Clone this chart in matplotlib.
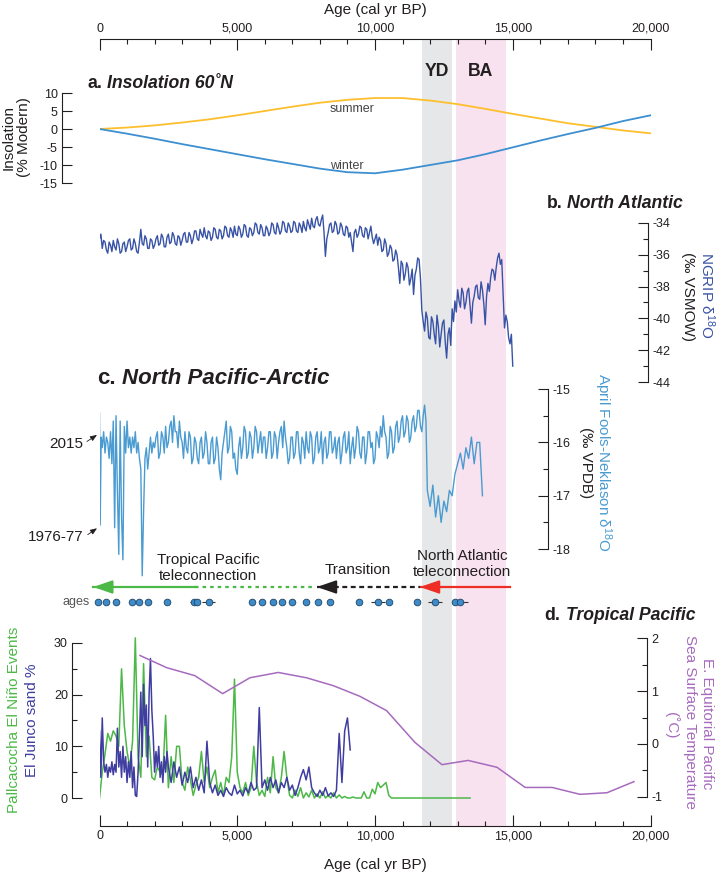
import numpy as np
import matplotlib
matplotlib.use('Agg')
import matplotlib.pyplot as plt
from matplotlib.ticker import FixedLocator, MultipleLocator, FuncFormatter

plt.rcParams['font.family'] = ['Liberation Sans', 'DejaVu Sans']
plt.rcParams['axes.unicode_minus'] = False
plt.rcParams['mathtext.fontset'] = 'custom'
plt.rcParams['mathtext.rm'] = 'Liberation Sans'
plt.rcParams['mathtext.default'] = 'regular'
LABEL_SIZE = 11

# ---------------- data ----------------
yd_span = (11700, 12800)
ba_span = (12950, 14750)

# a. insolation 60N (% modern)
ins_age = np.arange(0, 20001, 1000)
ins_summer = [0, 0.4, 1.0, 1.8, 2.7, 3.8, 5.0, 6.2, 7.3, 8.1, 8.6,
              8.6, 7.9, 6.9, 5.6, 4.2, 2.9, 1.6, 0.6, -0.4, -1.2]
ins_winter = [0, -1.3, -2.7, -4.2, -5.6, -7.0, -8.4, -9.7, -11.0, -12.0, -12.3,
              -11.3, -10.0, -8.7, -7.0, -5.1, -3.2, -1.4, 0.3, 2.2, 3.8]

# b. NGRIP d18O (50 yr steps)
ngrip_age = np.arange(0, 15001, 50)
ngrip_d18o = [
    -35.0, -34.7, -35.6, -35.1, -35.2, -35.7, -35.9, -35.2, -35.4, -35.8,
    -35.1, -35.5, -35.7, -35.0, -35.3, -35.9, -35.8, -35.3, -35.2, -35.8,
    -35.5, -35.1, -35.0, -35.7, -35.6, -35.0, -35.3, -35.8, -35.9, -35.2,
    -34.4, -35.3, -35.4, -34.8, -35.0, -35.6, -35.6, -35.0, -35.1, -35.6,
    -35.4, -35.0, -34.8, -35.4, -35.3, -34.7, -34.9, -35.5, -35.5, -34.9,
    -34.7, -35.3, -35.2, -34.6, -34.8, -35.3, -35.4, -34.8, -34.9, -35.4,
    -35.1, -34.7, -34.6, -35.2, -35.2, -34.6, -34.8, -35.3, -35.0, -34.5,
    -34.5, -35.0, -35.1, -34.4, -34.7, -34.9, -34.3, -34.8, -35.0, -34.5,
    -34.6, -35.1, -34.9, -34.3, -34.4, -34.9, -35.0, -34.4, -34.5, -35.0,
    -34.8, -34.2, -34.3, -34.8, -34.9, -34.3, -34.5, -34.9, -34.2, -34.7,
    -34.8, -34.2, -34.4, -34.9, -34.7, -34.1, -34.2, -34.8, -34.9, -34.3,
    -34.4, -34.8, -34.6, -34.0, -34.1, -34.6, -34.7, -34.1, -34.3, -34.8,
    -34.8, -34.2, -34.4, -34.8, -34.6, -34.0, -34.1, -34.6, -34.7, -34.0,
    -34.3, -34.7, -34.5, -33.9, -34.0, -34.5, -34.6, -34.0, -34.2, -34.6,
    -34.5, -33.9, -34.0, -34.5, -34.6, -34.0, -34.2, -34.6, -33.9, -34.3,
    -34.5, -33.8, -34.1, -34.4, -33.7, -34.2, -34.3, -33.8, -33.6, -34.1,
    -34.2, -33.8, -33.5, -34.6, -36.1, -35.0, -34.6, -34.1, -34.0, -34.6,
    -34.5, -33.9, -34.1, -34.7, -34.6, -34.0, -34.2, -34.7, -34.8, -34.2,
    -34.3, -34.9, -34.6, -35.2, -35.8, -34.6, -34.4, -34.9, -34.7, -34.2,
    -34.3, -34.8, -34.9, -34.3, -34.4, -35.0, -34.6, -34.2, -34.9, -35.3,
    -35.0, -34.7, -35.4, -34.9, -35.1, -35.8, -35.7, -35.0, -35.3, -36.1,
    -35.9, -35.4, -35.6, -36.4, -36.3, -35.7, -36.0, -36.8, -37.8, -36.4,
    -36.6, -37.6, -37.2, -36.5, -36.8, -37.9, -37.5, -36.9, -38.5, -37.3,
    -36.9, -36.2, -36.3, -37.5, -39.5, -40.2, -40.8, -39.6, -40.0, -41.2,
    -41.3, -39.9, -40.2, -41.0, -41.6, -39.8, -40.5, -41.8, -41.0, -40.3,
    -40.1, -41.5, -42.5, -41.0, -40.6, -41.7, -39.4, -40.2, -38.9, -39.6,
    -38.2, -38.9, -39.3, -38.1, -38.4, -39.4, -39.0, -38.3, -38.1, -39.2,
    -40.3, -39.0, -38.6, -38.0, -37.9, -38.7, -38.8, -37.7, -38.2, -39.1,
    -40.4, -38.6, -37.8, -38.3, -37.4, -36.9, -37.0, -37.6, -36.8, -36.2,
    -35.9, -36.6, -36.3, -38.4, -40.6, -39.8, -40.2, -41.2, -41.6, -41.0,
    -43.0]

# c. April Fools-Neklason d18O
afn_age = ([0, 25, 60, 100, 150, 200, 250, 300, 350, 400, 450, 500, 550, 600,
            650, 700, 750, 800, 850, 900, 950, 1000, 1050, 1100, 1150, 1200,
            1250, 1300, 1350, 1400, 1450, 1500, 1550, 1600, 1650, 1700, 1750,
            1800, 1850, 1900, 1950]
           + list(range(2000, 11851, 50)) + list(range(11900, 13901, 100)))
afn_d18o = [
    -15.45, -17.55, -15.9, -16.1, -15.8, -16.2, -15.9, -16.0, -16.3, -15.8,
    -16.4, -15.6, -17.6, -15.5, -16.9, -18.1, -15.6, -17.4, -18.2, -15.7,
    -16.2, -15.6, -16.1, -15.9, -16.2, -15.9, -16.1, -15.8, -16.2, -16.0,
    -16.3, -16.5, -18.5, -17.3, -16.3, -16.1, -16.5, -16.2, -15.9, -16.2,
    -16.0,
    -16.1, -15.9, -15.8, -16.3, -16.2, -15.8, -15.9, -16.2, -15.7, -16.1,
    -16.0, -15.7, -15.6, -16.0, -15.5, -15.8, -15.8, -16.1, -15.6, -15.9,
    -16.0, -16.3, -15.8, -16.1, -16.2, -15.8, -15.9, -16.4, -16.3, -15.9,
    -16.0, -16.3, -16.4, -16.0, -15.9, -16.3, -16.2, -15.8, -16.0, -16.4,
    -16.4, -16.0, -15.9, -16.4, -16.3, -15.9, -16.1, -16.5, -16.7, -16.2,
    -16.0, -15.8, -15.6, -16.2, -16.1, -15.7, -15.8, -16.3, -16.2, -16.5,
    -16.6, -16.1, -15.9, -16.3, -16.1, -15.7, -15.8, -16.3, -16.2, -15.8,
    -15.9, -16.3, -16.1, -15.7, -15.8, -16.2, -16.0, -15.8, -16.2, -15.9,
    -15.9, -16.3, -16.1, -15.8, -15.8, -16.3, -16.2, -15.8, -15.9, -16.3,
    -16.0, -15.8, -15.7, -16.1, -15.6, -15.9, -16.1, -16.4, -16.3, -15.9,
    -15.9, -16.3, -16.2, -15.8, -15.8, -16.2, -16.4, -15.9, -16.0, -16.3,
    -15.8, -16.1, -16.2, -15.8, -15.9, -16.4, -16.3, -15.9, -15.8, -16.2,
    -16.1, -15.8, -16.4, -16.0, -15.9, -16.3, -16.2, -15.8, -15.8, -16.2,
    -16.1, -15.9, -16.3, -16.0, -15.9, -16.4, -16.2, -15.9, -15.8, -16.2,
    -16.1, -15.8, -16.4, -16.1, -15.9, -16.3, -16.1, -15.7, -15.8, -16.2,
    -16.3, -15.9, -15.9, -16.4, -16.2, -15.8, -15.8, -16.1, -16.0, -16.4,
    -16.3, -15.8, -15.9, -16.1, -15.7, -15.9, -15.5, -15.8, -15.9, -16.3,
    -16.2, -15.7, -15.8, -16.2, -16.1, -15.7, -15.6, -16.0, -15.9, -15.6,
    -15.5, -15.9, -15.8, -15.5, -15.6, -16.0, -15.9, -15.6, -15.5, -15.8,
    -15.7, -15.4, -15.4, -15.7, -15.8, -15.5, -15.3, -15.6,
    -16.9, -17.2, -16.8, -17.4, -17.0, -17.5, -17.1, -17.3, -16.9, -17.0,
    -16.6, -16.4, -16.2, -16.5, -16.1, -16.3, -15.9, -16.4, -16.0, -16.0,
    -17.0]

# radiocarbon ages (dots) and their errors
date_age = [-50, 236, 600, 1170, 1445, 1770, 2460, 3440, 3530, 3960, 5525,
            5910, 6310, 6610, 7000, 7495, 7940, 8370, 9420, 10120, 10520,
            11515, 12180, 12905, 13085]
date_err = [0, 0, 0, 0, 0, 0, 0, 150, 0, 230, 0, 0, 0, 0, 0, 0, 0, 0, 0,
            260, 0, 0, 240, 0, 300]

# teleconnection arrows (ages)
trop_arrow = (-230, 3470, 7820)      # tip, end solid, end dotted
trans_arrow = (7890, 11630)          # tip, end dashed
natl_arrow = (11630, 12430, 14900)   # tip, end dash-dot, end solid

# d. Pallcacocha El Nino events
pall_age = list(range(0, 10701, 100)) + [13450]
pall_events = [
    0, 5, 8.5, 12.5, 11, 13, 12, 10, 25, 14,
    9, 6, 11, 31, 8, 4, 26, 8, 12, 4,
    3.5, 6, 5, 4.5, 16, 2, 8, 3, 10, 10,
    3, 1.5, 6, 3.5, 0.5, 2.5, 4, 9, 3, 6,
    2, 4, 5.4, 1, 3, 0.5, 4, 3, 8, 23,
    5, 2, 1, 3, 0.5, 2, 10, 3, 0.5, 1.5,
    0.3, 4, 1, 8, 2, 1, 4, 9, 4, 0.5,
    0, 1.5, 0.3, 2, 0, 1, 0.2, 1.5, 0, 0.8,
    0, 1.2, 0, 0.5, 0, 1, 0, 0.6, 0, 0.3,
    0, 0, 0.2, 0, 0, 0, 1.2, 0, 0, 1.7,
    0.8, 3, 2, 2.5, 3, 0.5, 0, 0,
    0]

# d. El Junco sand %
junco_age = list(range(0, 2500, 50)) + list(range(2500, 9101, 100))
junco_sand = [
    13, 4, 15.5, 7, 5, 6.5, 4, 6, 5, 7,
    4.5, 6.5, 5, 13.5, 6, 9, 4, 10, 5, 8,
    3, 7, 4, 9, 2, 6, 0.5, 0.3, 5, 12,
    20.5, 8, 22, 14, 18, 6, 20, 27, 17, 12,
    5, 9, 6, 10, 4, 7, 3, 8, 5, 9,
    6, 3, 7, 4, 6,
    2.5, 5, 3, 6, 2, 4, 1.5, 3.5, 1, 11,
    3, 1, 2.5, 0.5, 1.5, 0.3, 2, 1, 0.5, 2.5,
    0.8, 1.5, 0.4, 2, 1, 3, 1.5, 2, 17.5, 2,
    3.5, 1.5, 4, 2, 3.5, 1, 3, 2, 4, 1.5,
    2.5, 0.5, 2, 4, 5.5, 3.5, 6, 2, 1, 0.3,
    1.5, 0.5, 2, 0.4, 1, 0.3, 1.5, 12.5, 3, 13,
    15.5, 9.3]

# d. E. equatorial Pacific SST
sst_age = [1470, 2440, 3460, 4470, 5460, 6490, 7510, 8490, 9450, 10420,
           11450, 12430, 13380, 14430, 15450, 16430, 17440, 18420, 19400]
sst = [1.67, 1.44, 1.29, 0.95, 1.25, 1.35, 1.25, 1.10, 0.90, 0.63,
       0.03, -0.39, -0.31, -0.44, -0.82, -0.82, -0.95, -0.92, -0.71]

# ---------------- layout helpers ----------------
W, H = 716, 874
X0, X1 = 99.5, 650.5
fig = plt.figure(figsize=(W / 100, H / 100), dpi=100)
INK = '#231F20'


def rect(x0, y0, x1, y1):
    return [x0 / W, 1 - y1 / H, (x1 - x0) / W, (y1 - y0) / H]


def fpos(x, y):
    return x / W, 1 - y / H


def age_at(px):
    return (px - X0) / (X1 - X0) * 20000


def panel(y0, y1, ylim):
    ax = fig.add_axes(rect(X0, y0, X1, y1))
    ax.set_xlim(0, 20000)
    ax.set_ylim(*ylim)
    ax.patch.set_visible(False)
    ax.set_xticks([])
    return ax


def style_axis(ax, side, spine_px, lo, hi, major, minor=None):
    for s in ax.spines:
        ax.spines[s].set_visible(s == side)
    ax.spines[side].set_position(('data', age_at(spine_px)))
    ax.spines[side].set_bounds(lo, hi)
    ax.spines[side].set_linewidth(0.8)
    ax.spines[side].set_color(INK)
    ax.yaxis.set_ticks_position(side)
    ax.yaxis.set_major_locator(FixedLocator(np.arange(lo, hi + 1e-6, major)))
    if minor:
        ax.yaxis.set_minor_locator(FixedLocator(np.arange(lo, hi + 1e-6, minor)))
    ax.yaxis.set_major_formatter(FuncFormatter(lambda v, p: f'{v:g}'))
    ax.tick_params(axis='y', which='both', direction='in', labelsize=9,
                   width=0.8, color=INK, labelcolor=INK, pad=3)
    ax.tick_params(axis='y', which='major', length=7.5)
    ax.tick_params(axis='y', which='minor', length=3.8)


def panel_title(x, y, lead, rest, size, align='left'):
    r = fig.canvas.get_renderer()
    t1 = fig.text(0, 0, lead, fontsize=size, fontweight='bold', va='center', color=INK)
    t2 = fig.text(0, 0, rest, fontsize=size, fontweight='bold', style='italic',
                  va='center', color=INK)
    w1 = t1.get_window_extent(r).width + 0.28 * size * 100 / 72
    w2 = t2.get_window_extent(r).width
    start = x if align == 'left' else x - w1 - w2
    t1.set_position(fpos(start, y))
    t2.set_position(fpos(start + w1, y))


def side_label(x, y, text, color=INK, rot=270):
    fig.text(*fpos(x, y), text, rotation=rot, ha='center', va='center',
             fontsize=LABEL_SIZE, color=color, linespacing=1.15)


# ---------------- background: age axes + YD / BA bands ----------------
ax_bg = fig.add_axes(rect(X0, 39, X1, 826))
ax_bg.set_xlim(0, 20000)
ax_bg.set_ylim(0, 1)
ax_bg.patch.set_visible(False)
ax_bg.axvspan(*yd_span, color='#E6E7E8', lw=0)
ax_bg.axvspan(*ba_span, color='#F9E2EF', lw=0)
for s in ['left', 'right']:
    ax_bg.spines[s].set_visible(False)
for s in ['top', 'bottom']:
    ax_bg.spines[s].set_linewidth(0.8)
    ax_bg.spines[s].set_color(INK)
ax_bg.set_yticks([])
ax_bg.xaxis.set_major_locator(MultipleLocator(5000))
ax_bg.xaxis.set_minor_locator(MultipleLocator(1000))
ax_bg.xaxis.set_major_formatter(FuncFormatter(lambda v, p: f'{v:,.0f}'))
ax_bg.tick_params(axis='x', which='both', direction='in', top=True, bottom=True,
                  labeltop=True, labelbottom=True, labelsize=9, width=0.8,
                  color=INK, labelcolor=INK, pad=3)
ax_bg.tick_params(axis='x', which='major', length=8)
ax_bg.tick_params(axis='x', which='minor', length=3.8)
fig.text(*fpos(375, 10), 'Age (cal yr BP)', ha='center', va='center',
         fontsize=LABEL_SIZE, color=INK)
fig.text(*fpos(375, 865), 'Age (cal yr BP)', ha='center', va='center',
         fontsize=LABEL_SIZE, color=INK)
fig.text(*fpos(437, 71), 'YD', ha='center', va='center', fontsize=12.7,
         fontweight='bold', color=INK)
fig.text(*fpos(481, 71), 'BA', ha='center', va='center', fontsize=12.7,
         fontweight='bold', color=INK)

# ---------------- a. insolation ----------------
ax_a = panel(93, 183, (-15, 10))
ax_a.plot(ins_age, ins_summer, color='#FDBF2D', lw=1.3)
ax_a.plot(ins_age, ins_winter, color='#3C8FD1', lw=1.3)
style_axis(ax_a, 'left', 62, -15, 10, 5)
fig.text(*fpos(352, 109), 'summer', ha='center', va='center', fontsize=9, color='#444')
fig.text(*fpos(347, 166), 'winter', ha='center', va='center', fontsize=9, color='#444')
side_label(16, 137, 'Insolation\n(% Modern)', rot=90)
panel_title(87, 83, 'a.', 'Insolation 60˚N', 12.7)

# ---------------- b. North Atlantic ----------------
ax_b = panel(205, 382, (-44, -32.87))
ax_b.plot(ngrip_age, ngrip_d18o, color='#3853A6', lw=1.0)
style_axis(ax_b, 'right', 648, -44, -34, 2, 1)
side_label(707, 295, r'NGRIP δ$^{18}$O', color='#3853A6')
side_label(688, 296, '(‰ VSMOW)')
panel_title(683, 203, 'b.', 'North Atlantic', 12.7, align='right')

# ---------------- c. North Pacific-Arctic ----------------
ax_c = panel(380, 580, (-18.58, -14.83))
ax_c.plot(afn_age, afn_d18o, color='#4A9BD1', lw=1.0)
style_axis(ax_c, 'right', 548, -18, -15, 1, 0.5)
side_label(603, 462, r'April Fools-Neklason δ$^{18}$O', color='#4A9BD1')
side_label(586, 463, '(‰ VPDB)')
panel_title(97, 378, 'c.', 'North Pacific-Arctic', 16)
arrow_small = dict(arrowstyle='-|>,head_length=0.5,head_width=0.2', mutation_scale=8,
                   color=INK, lw=0.6, shrinkA=1, shrinkB=0, relpos=(1, 0.5))
ax_c.annotate('2015', xy=(afn_age[0] - 90, -15.86), xytext=(age_at(66), -16.03),
              ha='center', va='center', fontsize=LABEL_SIZE, color=INK,
              arrowprops=arrow_small, annotation_clip=False)
ax_c.annotate('1976-77', xy=(afn_age[0] - 90, -17.61), xytext=(age_at(56), -17.78),
              ha='center', va='center', fontsize=LABEL_SIZE, color=INK,
              arrowprops=arrow_small, annotation_clip=False)

# ---------------- teleconnection arrows + dates ----------------
ax_m = panel(540, 612, (612, 540))
for s in ax_m.spines.values():
    s.set_visible(False)
ax_m.set_yticks([])
ARROW_Y, DOT_Y = 587, 602


def arrow_head(tip, color):
    ax_m.annotate('', xy=(tip, ARROW_Y), xytext=(tip + 620, ARROW_Y),
                  annotation_clip=False,
                  arrowprops=dict(arrowstyle='-|>,head_length=0.58,head_width=0.2',
                                  mutation_scale=20, color=color, lw=1.5,
                                  shrinkA=0, shrinkB=0))


green, red = '#4CB848', '#EE2D24'
ax_m.plot(trop_arrow[:2], [ARROW_Y] * 2, color=green, lw=1.6, clip_on=False)
ax_m.plot(trop_arrow[1:], [ARROW_Y] * 2, color=green, lw=1.6, ls=(0, (1.6, 1.8)))
arrow_head(trop_arrow[0], green)
ax_m.plot(trans_arrow, [ARROW_Y] * 2, color=INK, lw=1.6, ls=(0, (2.2, 1.6)))
arrow_head(trans_arrow[0], INK)
ax_m.plot(natl_arrow[:2], [ARROW_Y] * 2, color=red, lw=1.6, ls=(0, (3, 1.5, 1, 1.5)))
ax_m.plot(natl_arrow[1:], [ARROW_Y] * 2, color=red, lw=1.6)
arrow_head(natl_arrow[0], red)

arrow_text = dict(ha='center', va='center', fontsize=LABEL_SIZE,
                  color=INK, linespacing=1.1)
ax_m.text(age_at(208), 568, 'Tropical Pacific\nteleconnection', **arrow_text)
ax_m.text(age_at(358), 570, 'Transition', **arrow_text)
ax_m.text(age_at(462), 564, 'North Atlantic\nteleconnection', **arrow_text)

ax_m.errorbar(date_age, [DOT_Y] * len(date_age), xerr=date_err, fmt='o', ms=4.8,
              mfc='#3D8BC9', mec='#1E4466', mew=0.6, ecolor='#333333',
              elinewidth=0.8, capsize=0, clip_on=False)
ax_m.text(age_at(90), DOT_Y, 'ages', ha='right', va='center', fontsize=9, color='#555555')

# ---------------- d. Tropical Pacific ----------------
ax_d = panel(620, 815, (-3.29, 34.45))
ax_d.plot(pall_age, pall_events, color=green, lw=1.1)
ax_d.plot(junco_age, junco_sand, color='#3F3DA0', lw=1.1)
style_axis(ax_d, 'left', 72, 0, 30, 10, 5)

ax_d2 = panel(620, 815, (-1.34, 2.34))
ax_d2.plot(sst_age, sst, color='#A66BBE', lw=1.1)
style_axis(ax_d2, 'right', 647, -1, 2, 1, 0.5)

side_label(14, 720, 'Pallcacocha El Niño Events', color=green, rot=90)
side_label(32, 720, 'El Junco sand %', color='#3F3DA0', rot=90)
side_label(707, 724, 'E. Equitorial Pacific', color='#A66BBE')
side_label(690, 722, 'Sea Surface Temperature', color='#A66BBE')
side_label(671, 725, '(˚C)', color='#A66BBE')
panel_title(695, 615, 'd.', 'Tropical Pacific', 12.7, align='right')

fig.savefig('out.png', dpi=100)
